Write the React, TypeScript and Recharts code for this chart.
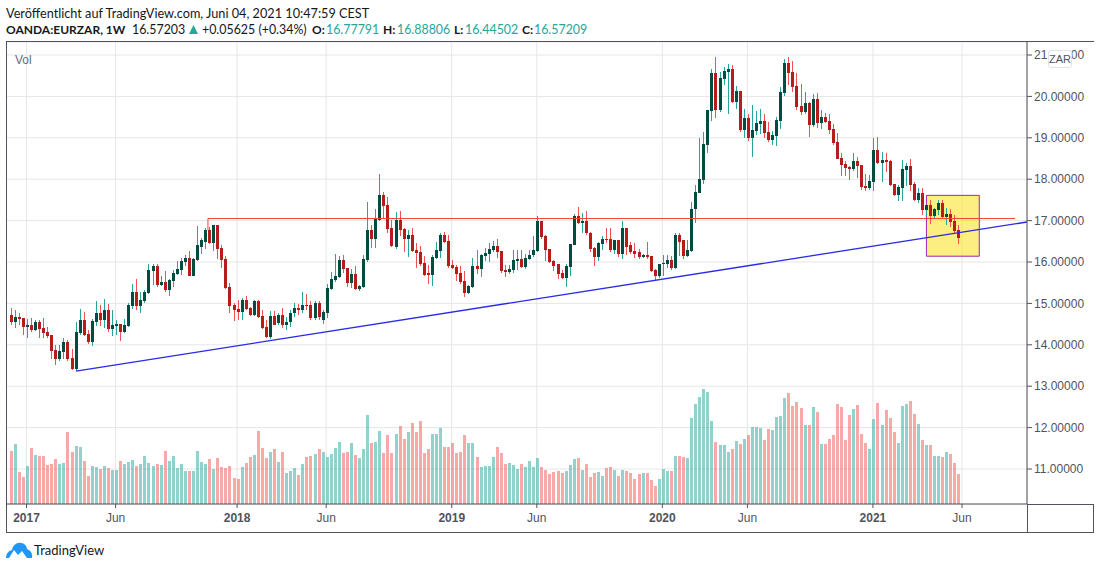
import {
  Bar,
  CartesianGrid,
  ComposedChart,
  ReferenceArea,
  ReferenceLine,
  XAxis,
  YAxis,
} from 'recharts';

const opens = [
  14.73, 14.56, 14.68, 14.65, 14.44, 14.48, 14.36, 14.56, 14.41, 14.31,
  14.24, 13.88, 13.66, 13.83, 14.07, 13.69, 13.42, 14.29, 14.6, 14.27,
  14.07, 14.56, 14.77, 14.6, 14.85, 14.39, 14.46, 14.51, 14.31, 14.46,
  14.94, 15.28, 14.94, 15.06, 15.26, 15.79, 15.91, 15.45, 15.52, 15.33,
  15.55, 15.72, 15.81, 16.01, 16.1, 15.67, 16.06, 16.37, 16.49, 16.78,
  16.47, 16.9, 16.35, 16.08, 15.4, 14.97, 14.87, 14.8, 15.09, 14.9,
  14.73, 15.06, 14.7, 14.44, 14.18, 14.69, 14.52, 14.71, 14.47, 14.54,
  14.76, 14.9, 14.85, 14.95, 14.95, 14.64, 15.02, 14.6, 14.77, 15.35,
  15.56, 15.64, 16.05, 15.85, 15.49, 15.71, 15.35, 15.4, 16.05, 16.77,
  16.56, 17.02, 17.62, 17.38, 16.82, 16.36, 17.02, 16.8, 16.56, 16.65,
  16.29, 16.24, 15.98, 15.73, 15.69, 16.1, 16.27, 16.65, 16.51, 15.93,
  15.88, 15.73, 15.54, 15.25, 15.4, 15.9, 15.83, 16.15, 16.19, 16.29,
  16.39, 16.27, 15.81, 15.76, 15.81, 16.02, 16.07, 15.88, 16.08, 16.17,
  16.27, 16.98, 16.64, 16.32, 16.03, 15.94, 15.74, 15.62, 15.89, 16.42,
  17.1, 16.95, 17.0, 16.71, 16.35, 16.13, 16.44, 16.56, 16.56, 16.3,
  16.52, 16.2, 16.81, 16.4, 16.27, 16.23, 16.13, 16.18, 16.15, 15.81,
  15.67, 15.94, 15.96, 16.06, 15.86, 16.66, 16.52, 16.15, 16.27, 17.27,
  17.67, 17.98, 18.83, 19.65, 20.57, 19.68, 20.43, 20.6, 20.67, 19.87,
  20.14, 19.19, 19.48, 19.0, 19.17, 19.34, 19.41, 19.15, 18.95, 19.05,
  19.41, 20.09, 20.81, 20.6, 20.26, 19.77, 19.63, 19.85, 19.31, 19.94,
  19.36, 19.51, 19.41, 19.22, 18.9, 18.52, 18.37, 18.3, 18.25, 18.44,
  18.35, 17.84, 17.79, 17.94, 18.7, 18.39, 18.46, 18.44, 17.88, 17.61,
  17.78, 18.22, 18.31, 17.88, 17.49, 17.66, 17.25, 17.37, 17.1, 17.25,
  17.42, 17.08, 17.15, 16.98, 16.77791,
];

const closes = [
  14.56, 14.68, 14.63, 14.44, 14.48, 14.36, 14.56, 14.39, 14.29, 14.22,
  13.85, 13.66, 13.85, 14.07, 13.66, 13.42, 14.31, 14.6, 14.24, 14.07,
  14.58, 14.77, 14.6, 14.85, 14.39, 14.48, 14.51, 14.31, 14.48, 14.97,
  15.28, 14.94, 15.09, 15.28, 15.81, 15.91, 15.45, 15.52, 15.33, 15.57,
  15.74, 15.84, 16.03, 16.1, 15.67, 16.08, 16.4, 16.52, 16.78, 16.47,
  16.9, 16.32, 16.06, 15.38, 14.94, 14.85, 14.8, 15.09, 14.87, 14.73,
  15.06, 14.68, 14.41, 14.19, 14.69, 14.49, 14.71, 14.47, 14.56, 14.78,
  14.9, 14.85, 14.95, 14.93, 14.64, 15.02, 14.66, 14.79, 15.37, 15.59,
  15.66, 16.05, 15.83, 15.49, 15.71, 15.35, 15.42, 16.07, 16.77, 16.56,
  17.04, 17.62, 17.35, 16.8, 16.39, 17.02, 16.77, 16.56, 16.65, 16.27,
  16.22, 15.95, 15.69, 15.69, 16.12, 16.29, 16.65, 16.48, 15.9, 15.85,
  15.71, 15.52, 15.25, 15.42, 15.9, 15.83, 16.17, 16.22, 16.31, 16.39,
  16.24, 15.78, 15.76, 15.83, 16.05, 16.07, 15.88, 16.1, 16.18, 16.3,
  16.98, 16.61, 16.3, 16.01, 15.91, 15.72, 15.62, 15.91, 16.44, 17.1,
  16.95, 17.0, 16.69, 16.32, 16.13, 16.47, 16.56, 16.52, 16.3, 16.52,
  16.2, 16.81, 16.37, 16.25, 16.2, 16.13, 16.18, 16.13, 15.79, 15.67,
  15.96, 15.98, 16.06, 15.86, 16.66, 16.49, 16.15, 16.3, 17.29, 17.7,
  18.01, 18.85, 19.68, 20.57, 19.68, 20.45, 20.62, 20.67, 19.87, 20.14,
  19.19, 19.48, 19.0, 19.19, 19.36, 19.41, 19.12, 18.95, 19.07, 19.44,
  20.11, 20.81, 20.57, 20.23, 19.75, 19.63, 19.85, 19.31, 19.94, 19.36,
  19.51, 19.39, 19.19, 18.88, 18.49, 18.35, 18.27, 18.25, 18.44, 18.32,
  17.81, 17.79, 17.96, 18.71, 18.39, 18.46, 18.41, 17.85, 17.61, 17.81,
  18.24, 18.31, 17.85, 17.49, 17.66, 17.25, 17.37, 17.1, 17.27, 17.42,
  17.08, 17.15, 16.96, 16.74, 16.57209,
];

const highs = [
  14.89, 14.85, 14.78, 14.65, 14.63, 14.65, 14.6, 14.6, 14.65, 14.44,
  14.24, 14.0, 14.0, 14.17, 14.12, 13.9, 14.56, 14.87, 14.8, 14.36,
  14.63, 15.06, 14.97, 15.11, 14.99, 14.85, 14.6, 14.51, 14.63, 15.02,
  15.48, 15.6, 15.28, 15.33, 15.96, 15.96, 15.94, 15.67, 15.79, 15.6,
  15.81, 16.03, 16.1, 16.18, 16.27, 16.1, 16.88, 16.59, 16.81, 16.85,
  16.9, 16.9, 16.4, 16.15, 15.5, 15.02, 15.09, 15.14, 15.19, 14.92,
  15.09, 15.09, 14.85, 14.6, 14.81, 14.81, 14.76, 14.9, 14.66, 14.83,
  15.0, 14.98, 15.27, 15.22, 15.07, 15.07, 15.07, 14.84, 15.47, 15.76,
  16.19, 16.15, 16.17, 15.85, 15.83, 15.9, 15.44, 16.17, 17.45, 16.9,
  17.28, 18.13, 17.69, 17.57, 17.02, 17.21, 17.23, 16.82, 16.77, 16.82,
  16.46, 16.39, 16.15, 15.93, 16.17, 16.48, 16.7, 16.73, 16.65, 16.05,
  15.93, 15.9, 15.78, 15.44, 16.1, 16.29, 16.19, 16.34, 16.46, 16.51,
  16.56, 16.27, 15.93, 15.93, 16.29, 16.29, 16.29, 16.19, 16.3, 16.64,
  17.1, 16.98, 16.66, 16.32, 16.06, 15.96, 15.81, 15.94, 16.44, 17.17,
  17.34, 17.19, 17.24, 16.73, 16.37, 16.49, 16.64, 16.83, 16.83, 16.54,
  16.54, 16.98, 16.81, 16.49, 16.47, 16.32, 16.2, 16.49, 16.15, 15.84,
  15.96, 16.18, 16.18, 16.15, 16.69, 16.69, 16.54, 16.54, 17.44, 17.86,
  19.0, 19.15, 19.68, 20.65, 20.94, 20.6, 20.72, 20.79, 20.77, 20.26,
  20.14, 19.7, 19.58, 19.8, 19.65, 19.7, 19.58, 19.39, 19.17, 19.51,
  20.23, 20.91, 20.94, 20.86, 20.57, 20.31, 20.11, 19.87, 20.06, 20.09,
  19.68, 19.6, 19.58, 19.34, 19.12, 18.64, 18.44, 18.32, 18.64, 18.54,
  18.35, 18.13, 18.1, 19.0, 19.02, 18.65, 18.63, 18.46, 17.88, 17.85,
  18.46, 18.39, 18.48, 17.93, 17.78, 17.78, 17.37, 17.49, 17.3, 17.49,
  17.49, 17.3, 17.27, 17.13, 16.88806,
];

const lows = [
  14.47, 14.4, 14.48, 14.24, 14.17, 14.31, 14.34, 14.17, 14.17, 14.17,
  13.66, 13.52, 13.61, 13.66, 13.61, 13.4, 13.37, 14.24, 14.22, 14.02,
  13.98, 14.46, 14.46, 14.41, 14.31, 14.22, 14.24, 14.1, 14.29, 14.44,
  14.87, 14.85, 14.77, 15.02, 15.23, 15.45, 15.4, 15.43, 15.28, 15.19,
  15.4, 15.69, 15.69, 15.91, 15.65, 15.65, 16.03, 16.2, 16.32, 16.44,
  16.27, 16.08, 15.86, 15.35, 14.77, 14.58, 14.6, 14.6, 14.85, 14.7,
  14.7, 14.65, 14.39, 14.17, 14.15, 14.47, 14.49, 14.4, 14.35, 14.44,
  14.66, 14.71, 14.76, 14.83, 14.59, 14.59, 14.6, 14.5, 14.65, 15.32,
  15.52, 15.61, 15.73, 15.4, 15.37, 15.32, 15.3, 15.37, 16.0, 16.34,
  16.34, 16.99, 17.06, 16.7, 16.36, 16.31, 16.63, 16.24, 16.12, 16.24,
  15.85, 15.9, 15.66, 15.47, 15.42, 16.07, 16.1, 16.46, 15.85, 15.83,
  15.54, 15.47, 15.15, 15.23, 15.37, 15.71, 15.64, 16.02, 16.0, 16.24,
  16.1, 15.73, 15.64, 15.71, 15.73, 15.81, 15.85, 15.83, 16.06, 16.13,
  16.25, 16.56, 16.03, 15.98, 15.79, 15.6, 15.6, 15.4, 15.67, 16.4,
  16.93, 16.71, 16.66, 16.25, 15.91, 16.03, 16.3, 16.47, 16.23, 16.2,
  16.13, 16.08, 16.18, 16.2, 16.1, 16.08, 16.1, 16.08, 15.77, 15.57,
  15.62, 15.65, 15.86, 15.81, 15.84, 16.15, 16.08, 16.13, 16.25, 16.95,
  17.67, 17.89, 18.64, 19.41, 19.48, 19.63, 20.28, 19.58, 19.85, 19.7,
  19.15, 19.0, 18.93, 18.54, 19.07, 19.1, 19.0, 18.9, 18.83, 18.81,
  19.22, 20.02, 20.28, 20.11, 19.68, 19.56, 19.58, 19.02, 19.27, 19.24,
  19.22, 19.36, 19.1, 18.83, 18.49, 18.08, 18.08, 17.98, 18.2, 18.03,
  17.74, 17.72, 17.74, 17.72, 18.36, 17.93, 18.17, 17.83, 17.59, 17.47,
  17.47, 17.83, 17.71, 17.47, 17.42, 17.13, 17.1, 16.91, 17.03, 17.13,
  17.06, 16.89, 16.84, 16.67, 16.44502,
];

const volumes = [
  53, 60, 32, 27, 38, 56, 49, 48, 48, 39,
  40, 45, 40, 41, 72, 52, 58, 57, 43, 28,
  38, 37, 35, 38, 36, 34, 34, 43, 40, 42,
  44, 38, 40, 48, 41, 38, 40, 39, 53, 43,
  48, 36, 40, 33, 33, 33, 53, 42, 40, 45,
  35, 46, 37, 36, 38, 26, 25, 37, 41, 47,
  49, 73, 56, 46, 52, 55, 42, 52, 31, 33,
  36, 29, 40, 47, 48, 50, 55, 52, 47, 50,
  56, 62, 51, 52, 61, 49, 46, 55, 89, 61,
  62, 73, 51, 69, 51, 70, 78, 65, 72, 81,
  72, 83, 51, 55, 70, 70, 76, 57, 57, 61,
  51, 52, 69, 61, 61, 47, 37, 38, 38, 47,
  57, 51, 40, 41, 39, 35, 40, 37, 43, 37,
  46, 37, 34, 30, 32, 33, 31, 33, 39, 45,
  46, 34, 40, 27, 31, 32, 28, 36, 37, 34,
  28, 34, 33, 31, 25, 30, 31, 31, 24, 18,
  25, 35, 33, 33, 48, 48, 47, 46, 86, 100,
  107, 115, 112, 83, 62, 59, 59, 52, 55, 63,
  60, 65, 69, 77, 77, 76, 64, 75, 74, 87,
  88, 106, 111, 98, 102, 96, 79, 79, 97, 92,
  60, 60, 65, 69, 100, 97, 64, 89, 95, 99,
  70, 61, 55, 85, 101, 79, 94, 86, 72, 61,
  98, 100, 103, 90, 80, 64, 59, 59, 48, 48,
  47, 52, 50, 41, 30,
];

const timeTicks = [4, 26, 56, 78, 109, 130, 161, 182, 213, 235];
const timeLabels = ['2017', 'Jun', '2018', 'Jun', '2019', 'Jun', '2020', 'Jun', '2021', 'Jun'];
const priceTicks = [11, 12, 13, 14, 15, 16, 17, 18, 19, 20, 21];

const candles = opens.map((open, i) => ({
  i,
  open,
  close: closes[i],
  high: highs[i],
  low: lows[i],
  vol: volumes[i],
}));

const X_DOMAIN = [-0.94, 251.04];
const UP = '#26a69a';
const DOWN = '#ef5350';
const UP_BODY = '#004d40';
const DOWN_BODY = '#b71c1c';
const FRAME = '#50535e';
const SANS = '"Liberation Sans", Arial, sans-serif';
const HEAD = 'Lato, sans-serif';

function Candle(props: any) {
  const { x, y, width, height, payload } = props;
  const { open, close, high, low } = payload;
  const up = close >= open;
  const cx = Math.round(x + width / 2);
  const k = height / (high - low);
  const top = y + (high - Math.max(open, close)) * k;
  const bodyH = Math.max(Math.abs(open - close) * k, 1);
  return (
    <g shapeRendering="crispEdges">
      <rect x={cx} y={y} width={1} height={height} fill={up ? UP : DOWN} />
      <rect x={cx - 1} y={top} width={3} height={bodyH} fill={up ? UP_BODY : DOWN_BODY} />
    </g>
  );
}

function VolBar(props: any) {
  const { x, y, width, height, payload } = props;
  const up = payload.close >= payload.open;
  return (
    <rect
      x={Math.round(x + width / 2) - 1}
      y={y}
      width={3}
      height={height}
      fill={up ? UP : DOWN}
      fillOpacity={0.5}
      shapeRendering="crispEdges"
    />
  );
}

function TimeTick({ x, y, payload }: any) {
  const label = timeLabels[timeTicks.indexOf(payload.value)];
  return (
    <text
      x={x}
      y={y + 12}
      textAnchor="middle"
      fontFamily={SANS}
      fontSize={12}
      fontWeight={label === 'Jun' ? 400 : 700}
      fill={FRAME}
    >
      {label}
    </text>
  );
}

function Head({ x, color = '#131722', bold, children }: any) {
  return (
    <span
      style={{
        position: 'absolute',
        left: x,
        top: 22,
        color,
        fontWeight: bold ? 700 : 400,
        fontSize: bold ? 12 : 12.4,
        lineHeight: '16px',
        whiteSpace: 'nowrap',
      }}
    >
      {children}
    </span>
  );
}

export default function App() {
  return (
    <div style={{ position: 'absolute', left: 0, top: 0, width: 1100, height: 569, background: '#fff', overflow: 'hidden' }}>
      <ComposedChart
        width={1100}
        height={569}
        data={candles}
        margin={{ top: 42, right: 6, bottom: 36, left: 6.5 }}
      >
        <CartesianGrid xAxisId="price" yAxisId="price" stroke="#e6e6e6" />
        <XAxis
          xAxisId="price"
          type="number"
          dataKey="i"
          domain={X_DOMAIN}
          allowDataOverflow
          ticks={timeTicks}
          interval={0}
          height={29}
          tick={<TimeTick />}
          tickSize={4}
          tickLine={{ stroke: FRAME }}
          axisLine={{ stroke: FRAME }}
        />
        <XAxis xAxisId="vol" type="number" dataKey="i" domain={X_DOMAIN} allowDataOverflow hide />
        <YAxis
          yAxisId="price"
          orientation="right"
          domain={[10.155, 21.314]}
          allowDataOverflow
          ticks={priceTicks}
          interval={0}
          width={67}
          tickSize={5}
          tickFormatter={(v: number) => v.toFixed(5)}
          tick={{ fontFamily: SANS, fontSize: 12, fill: FRAME }}
          tickLine={{ stroke: FRAME }}
          axisLine={{ stroke: FRAME }}
        />
        <YAxis yAxisId="vol" domain={[0, 462]} allowDataOverflow hide />

        <Bar xAxisId="vol" yAxisId="vol" dataKey="vol" barSize={3} shape={<VolBar />} isAnimationActive={false} />

        <ReferenceLine
          xAxisId="price"
          yAxisId="price"
          segment={[{ x: 48.8, y: 16.77 }, { x: 48.8, y: 17.05 }]}
          stroke="#f44336"
        />
        <ReferenceLine
          xAxisId="price"
          yAxisId="price"
          segment={[{ x: 48.8, y: 17.05 }, { x: 248.1, y: 17.05 }]}
          stroke="#f44336"
        />
        <ReferenceLine
          xAxisId="price"
          yAxisId="price"
          segment={[{ x: 16.22, y: 13.367 }, { x: 251.04, y: 16.966 }]}
          stroke="#2a2ae8"
          strokeWidth={1.3}
        />
        <ReferenceArea
          xAxisId="price"
          yAxisId="price"
          x1={226.2}
          x2={239.26}
          y1={16.14}
          y2={17.61}
          fill="#fbe32d"
          fillOpacity={0.6}
          stroke="#9c27b0"
          strokeOpacity={1}
        />

        <Bar
          xAxisId="price"
          yAxisId="price"
          dataKey={(d: any) => [d.low, d.high]}
          barSize={3}
          shape={<Candle />}
          isAnimationActive={false}
        />
      </ComposedChart>

      {/* frame around the panes */}
      <div style={{ position: 'absolute', left: 6, top: 41, width: 1088, height: 1, background: FRAME }} />
      <div style={{ position: 'absolute', left: 6, top: 41, width: 1, height: 492, background: FRAME }} />
      <div style={{ position: 'absolute', left: 6, top: 532, width: 1088, height: 1, background: FRAME }} />
      <div style={{ position: 'absolute', left: 1027, top: 504, width: 1, height: 29, background: FRAME }} />
      <div style={{ position: 'absolute', left: 1027, top: 504, width: 67, height: 1, background: FRAME }} />
      <div style={{ position: 'absolute', left: 1093, top: 504, width: 1, height: 29, background: FRAME }} />

      <div style={{ position: 'absolute', left: 15, top: 53, font: `12px ${SANS}`, color: '#6a6d78' }}>Vol</div>
      <div
        style={{
          position: 'absolute',
          left: 1048,
          top: 50,
          width: 22,
          height: 16,
          border: '1px solid #e0e3eb',
          borderRadius: 3,
          background: '#fff',
          font: `11px ${SANS}`,
          color: FRAME,
          textAlign: 'center',
          lineHeight: '16px',
        }}
      >
        ZAR
      </div>

      <div style={{ font: `12.7px ${HEAD}` }}>
        <span style={{ position: 'absolute', left: 6, top: 5, color: '#131722', whiteSpace: 'nowrap' }}>
          Veröffentlicht auf TradingView.com, Juni 04, 2021 10:47:59 CEST
        </span>
        <Head x={6} bold>OANDA:EURZAR, 1W</Head>
        <Head x={132}>16.57203</Head>
        <svg style={{ position: 'absolute', left: 189, top: 25 }} width={9} height={9}>
          <polygon points="4.5,0 9,9 0,9" fill={UP} />
        </svg>
        <Head x={202}>+0.05625 (+0.34%)</Head>
        <Head x={312} bold>O:</Head>
        <Head x={326} color={UP}>16.77791</Head>
        <Head x={383} bold>H:</Head>
        <Head x={397} color={UP}>16.88806</Head>
        <Head x={454} bold>L:</Head>
        <Head x={465} color={UP}>16.44502</Head>
        <Head x={522} bold>C:</Head>
        <Head x={534} color={UP}>16.57209</Head>
      </div>

      <svg style={{ position: 'absolute', left: 6, top: 542 }} width={27} height={17} viewBox="0 0 27 17">
        <path
          d="M0 16 C0 12 2 9 6 8 C7 3 11 0 15 1 C18 1 21 4 21 7 C24 8 27 11 26 16 L21 16 L16 9 L12 13 L8 8 L3 16 Z"
          fill="#2196f3"
        />
      </svg>
      <span style={{ position: 'absolute', left: 34, top: 542, font: `13px ${HEAD}`, color: '#131722' }}>TradingView</span>
    </div>
  );
}
